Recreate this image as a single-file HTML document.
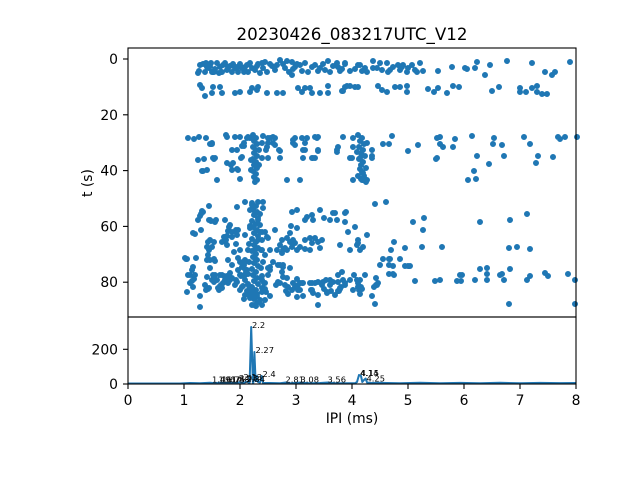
<!DOCTYPE html>
<html><head><meta charset="utf-8"><style>
html,body{margin:0;padding:0;background:#fff;}
svg{display:block;}
text{font-family:"DejaVu Sans","Liberation Sans",sans-serif;fill:#000;}
</style></head><body>
<svg width="640" height="480" viewBox="0 0 640 480" xmlns="http://www.w3.org/2000/svg">
<rect width="640" height="480" fill="#fff"/>
<text x="352" y="40" font-size="16.7" text-anchor="middle">20230426_083217UTC_V12</text>

<!-- scatter points -->
<path fill="none" stroke="#1f77b4" stroke-width="6" stroke-linecap="round" d="
M200 65h0M206 63h0M207 67h0M199 71h0M210 66h0M217 63h0M214 72h0M212 72h0M220 67h0M223 65h0M222 72h0M227 70h0M230 66h0M232 72h0M235 68h0M238 72h0M240 64h0M242 68h0M245 67h0M248 72h0M250 63h0M252 68h0M257 66h0M262 63h0M265 62h0M267 72h0M272 66h0M277 65h0M280 60h0M283 64h0M287 61h0M292 62h0M293 69h0M297 64h0M300 65h0M302 71h0M292 75h0M308 72h0M312 67h0M320 68h0M323 64h0M328 61h0M330 72h0M337 63h0M338 67h0M345 64h0M350 71h0M358 65h0
M198 73h0M203 64h0M205 72h0M209 68h0M211 63h0M215 69h0M219 73h0M225 63h0M228 68h0M233 64h0M237 67h0M244 72h0M247 65h0M255 70h0M258 64h0M260 73h0M263 68h0M270 64h0M275 70h0M285 68h0M289 72h0M295 67h0M305 63h0M315 65h0M318 71h0M325 70h0M333 66h0M342 69h0
M345 63h0M340 71h0M355 69h0M360 65h0M362 71h0M367 72h0M365 68h0M373 61h0M373 68h0M377 68h0M380 63h0M382 70h0M387 63h0M388 72h0M390 70h0M393 67h0M398 65h0M400 70h0M402 67h0M403 65h0M407 72h0M408 68h0M412 65h0M415 70h0M417 72h0M420 63h0M423 71h0M438 71h0M452 67h0M465 68h0M467 69h0M475 68h0M477 62h0M485 75h0M490 65h0M507 61h0M532 63h0M545 72h0M552 75h0M555 72h0M570 62h0
M200 85h0M202 88h0M205 96h0M212 93h0M213 87h0M220 87h0M222 93h0M235 93h0M240 92h0M250 92h0M252 88h0M257 90h0M258 87h0M267 93h0M277 93h0M283 93h0M298 88h0M302 92h0M305 88h0M310 88h0M312 93h0M320 93h0M328 86h0M328 93h0M342 91h0M345 87h0M350 86h0M358 87h0
M343 91h0M347 86h0M355 87h0M378 86h0M382 90h0M387 92h0M395 87h0M400 87h0M407 86h0M407 92h0M428 89h0M434 92h0M438 88h0M447 93h0M453 86h0M459 87h0M492 91h0M499 87h0M520 88h0M520 92h0M526 92h0M532 88h0M537 86h0M537 92h0M542 94h0M547 94h0
M188 138h0M194 139h0M199 137h0M206 138h0M212 144h0M226 135h0M227 137h0M198 160h0M204 159h0M214 159h0M202 171h0M203 171h0M217 180h0M231 165h0M233 163h0M237 169h0M241 158h0M242 146h0M244 146h0M240 179h0
M210 144h0M235 137h0M240 137h0M248 137h0M263 136h0M268 138h0M273 137h0M275 145h0M267 147h0M280 151h0M293 140h0M295 145h0M302 138h0M303 150h0M315 137h0M318 137h0M318 151h0M337 152h0M338 147h0M343 137h0M353 138h0M353 147h0M232 150h0M237 150h0M215 158h0M242 157h0M280 158h0M313 158h0M350 158h0
M212 143h0M244 143h0M262 143h0M268 143h0M273 143h0M293 143h0M305 143h0M266 150h0M279 150h0M318 150h0M337 150h0M372 150h0M213 158h0M262 158h0M268 158h0M303 158h0M315 158h0M352 158h0M360 158h0M372 158h0M227 163h0M233 163h0M207 170h0M232 170h0M238 170h0M287 180h0M300 180h0M353 180h0M362 180h0M367 180h0M247 138h0M250 138h0M256 138h0M270 138h0M275 138h0M295 138h0M307 138h0M317 138h0
M383 144h0M389 144h0M392 136h0M408 151h0M418 145h0M437 138h0M440 137h0M440 144h0M443 147h0M455 139h0M453 147h0M472 136h0M494 138h0M493 144h0M502 145h0M524 137h0M530 144h0M558 137h0M560 139h0M565 137h0M577 137h0M372 156h0M437 158h0M477 156h0M504 156h0M538 156h0M553 157h0
M436 159h0M489 164h0M536 163h0M474 171h0M468 180h0M476 179h0M363 173h0M305 150h0M312 158h0
M253 135h0M256 138h0M254 141h0M257 144h0M253 147h0M256 150h0M254 153h0M257 156h0M253 159h0M256 162h0M254 165h0M257 168h0M253 171h0M256 174h0M254 177h0M257 180h0M255 182h0M251 170h0M251 160h0M259 150h0M259 165h0
M358 135h0M362 138h0M360 141h0M364 144h0M359 147h0M363 150h0M361 153h0M365 156h0M359 159h0M363 162h0M361 165h0M360 169h0M362 172h0M364 176h0M361 179h0M366 182h0M358 176h0M366 168h0M367 143h0M357 152h0
M209 206h0M201 214h0M198 220h0M211 221h0M215 222h0M225 220h0M229 227h0M232 232h0M236 230h0M195 234h0M208 242h0M209 250h0M212 247h0M214 242h0M222 242h0M224 237h0M226 240h0M227 236h0M187 259h0M193 267h0M188 275h0M192 281h0M194 279h0M200 296h0M207 260h0M214 259h0M209 288h0M214 276h0M217 280h0M222 275h0M223 283h0M228 282h0M236 280h0M240 262h0M242 267h0M241 275h0M243 286h0M245 295h0M256 306h0M252 290h0
M237 207h0M245 202h0M258 202h0M263 202h0M263 208h0M252 205h0M200 216h0M202 211h0M210 220h0M230 225h0M228 231h0M238 230h0M245 235h0M255 213h0M258 220h0M250 228h0M260 225h0M262 232h0M265 232h0M262 240h0M258 240h0M268 238h0M275 230h0M282 240h0M287 238h0M292 212h0M297 210h0M305 220h0M312 215h0M320 210h0M335 213h0M345 213h0M345 222h0M348 232h0M355 227h0M358 240h0M363 247h0M367 235h0M290 242h0M295 243h0M300 247h0M305 249h0M305 240h0M285 248h0M248 250h0M255 250h0M262 250h0M270 250h0M283 250h0M297 250h0M340 245h0M350 250h0M357 245h0M193 233h0M210 240h0M207 247h0M196 258h0M238 258h0M255 258h0
M185 258h0M192 270h0M195 275h0M190 283h0M187 292h0M193 287h0M200 307h0M201 230h0M203 212h0M209 220h0M216 220h0M232 237h0M237 235h0M236 244h0M234 252h0M240 250h0M238 258h0M245 260h0M244 268h0M246 272h0M241 276h0M230 273h0M224 276h0M222 288h0M219 290h0M213 275h0M214 282h0M218 288h0M221 285h0M207 277h0M205 285h0M206 290h0M215 261h0M208 255h0M210 260h0M227 245h0M228 260h0M232 265h0M237 282h0M235 285h0M240 290h0M250 297h0M252 305h0M257 294h0M262 288h0M265 283h0M268 275h0M268 268h0M265 255h0M267 237h0M280 245h0M277 250h0M282 253h0M287 250h0M292 247h0M293 240h0M290 233h0M291 226h0M297 228h0M280 265h0M283 267h0M290 268h0M283 277h0M278 282h0M276 285h0M288 287h0M293 283h0M297 279h0M298 285h0M302 283h0M300 290h0M303 296h0M297 297h0M285 285h0M310 283h0M312 290h0M313 293h0M315 283h0M318 295h0M327 293h0M330 285h0M331 291h0M330 280h0M322 285h0M326 280h0M310 250h0M312 243h0M315 238h0M324 218h0M322 240h0M320 248h0M318 242h0M310 238h0M307 217h0M313 220h0M333 213h0M337 220h0M330 220h0M338 275h0M342 272h0M345 285h0M339 291h0M350 280h0M353 290h0M358 283h0M360 294h0M361 287h0M374 287h0M376 278h0M377 285h0M372 296h0M375 304h0M360 250h0M358 243h0M378 283h0
M186 259h0M190 275h0M208 289h0M208 259h0M210 268h0M212 280h0M215 275h0M220 286h0M220 275h0M225 280h0M227 276h0M228 283h0M230 280h0M232 278h0M238 270h0M240 275h0M245 275h0M244 265h0M243 262h0M242 287h0M247 291h0M248 293h0M254 305h0M262 305h0M255 296h0M263 288h0M265 289h0M264 283h0M270 267h0M273 262h0M270 270h0M278 265h0M283 265h0M282 272h0M280 283h0M287 278h0M286 291h0M288 294h0M300 283h0M303 283h0M295 287h0M292 290h0M298 290h0M311 290h0M312 283h0M318 282h0M323 282h0M318 305h0M324 289h0M327 292h0M333 282h0M338 282h0M338 291h0M340 288h0M335 295h0M345 283h0M354 275h0M357 280h0M358 287h0M360 280h0M359 290h0
M341 287h0M343 280h0M340 289h0M362 289h0M365 275h0M376 285h0M380 265h0M383 259h0M390 259h0M389 265h0M393 274h0M389 274h0M393 266h0M394 275h0M400 259h0M405 266h0M408 266h0M410 266h0M415 281h0M435 281h0M440 280h0M457 281h0M460 275h0M462 275h0M461 281h0M475 280h0M480 269h0M487 268h0M487 274h0M487 280h0M500 275h0M502 274h0M504 280h0M510 269h0M509 304h0M527 280h0M530 276h0M545 273h0M548 276h0M568 274h0M575 280h0M575 304h0
M375 204h0M386 202h0M346 212h0M413 222h0M424 218h0M423 230h0M394 242h0M391 250h0M405 248h0M422 247h0M442 247h0M480 222h0M510 220h0M527 214h0M509 248h0M517 247h0M530 249h0M383 259h0M389 259h0
M252 203h0M256 206h0M253 209h0M257 212h0M254 215h0M258 218h0M252 221h0M256 224h0M253 227h0M257 230h0M254 233h0M258 236h0M252 239h0M256 242h0M254 245h0M258 248h0M252 251h0M256 254h0M253 257h0M257 260h0M254 263h0M258 266h0M252 269h0M256 272h0M253 275h0M257 278h0M254 281h0M258 284h0M252 287h0M256 290h0M253 293h0M257 296h0M254 299h0M258 302h0M255 305h0
M250 210h0M260 214h0M250 226h0M260 232h0M249 244h0M261 250h0M249 262h0M261 268h0M248 274h0M262 280h0M249 286h0M262 292h0M250 298h0M260 300h0M245 280h0M248 284h0M262 276h0M266 292h0M244 299h0M270 296h0M265 300h0M247 270h0M263 262h0
"/>

<!-- top axes frame -->
<rect x="128" y="48" width="448" height="269" fill="none" stroke="#000" stroke-width="1.1"/>
<g stroke="#000" stroke-width="1.1">
<line x1="123" y1="59" x2="128" y2="59"/>
<line x1="123" y1="114.8" x2="128" y2="114.8"/>
<line x1="123" y1="170.6" x2="128" y2="170.6"/>
<line x1="123" y1="226.4" x2="128" y2="226.4"/>
<line x1="123" y1="282.2" x2="128" y2="282.2"/>
</g>
<g font-size="13.9" text-anchor="end">
<text x="118" y="64">0</text>
<text x="118" y="119.8">20</text>
<text x="118" y="175.6">40</text>
<text x="118" y="231.4">60</text>
<text x="118" y="287.2">80</text>
</g>
<text transform="translate(92,183) rotate(-90)" font-size="13.9" text-anchor="middle">t (s)</text>

<!-- histogram -->
<path fill="none" stroke="#1f77b4" stroke-width="2" stroke-linejoin="round" d="M128,383.5 L180,383.5 L190,383 L200,383.3 L210,382.8 L215,383.2 L220,382.6 L225,383 L230,382.5 L235,383 L240,382.3 L244,382.8 L247,381.5 L249,383 L249.6,383 L251.2,327 L252.9,383 L253.3,383 L254.4,352 L255.6,381 L256.5,381 L257.2,376 L258,382 L260,382.5 L261.7,376 L263,383 L270,383 L280,383.2 L286,382.5 L290,383.2 L300,382.6 L310,383.2 L320,383 L328,382.5 L335,383.2 L355,383.2 L357,382 L359,375 L361,376 L362.3,382 L364,380 L365.7,378.5 L367,382.5 L370,383 L380,382.8 L400,383.2 L420,382.8 L440,383.3 L460,382.9 L480,383.2 L500,382.8 L520,383.2 L540,382.9 L560,383.1 L576,383"/>
<g font-size="8.3">
<text x="252" y="328">2.2</text>
<text x="255.5" y="353">2.27</text>
<text x="262.5" y="377">2.4</text>
<text x="285.5" y="382.5">2.81</text>
<text x="300.5" y="382.5">3.08</text>
<text x="327.5" y="382.5">3.56</text>
<text x="360" y="376">4.14</text>
<text x="360.6" y="376">4.15</text>
<text x="366.5" y="381.5">4.25</text>
<text x="212" y="382.5">1.49</text>
<text x="218.5" y="382.5">1.61</text>
<text x="222" y="382.5">1.67</text>
<text x="226.5" y="382.5">1.75</text>
<text x="231" y="382.5">1.83</text>
<text x="239" y="381">2.03</text>
<text x="243.5" y="380">2.13</text>
<text x="246.5" y="382">2.34</text>
</g>
<rect x="128" y="317" width="448" height="67" fill="none" stroke="#000" stroke-width="1.1"/>
<g stroke="#000" stroke-width="1.1">
<line x1="123" y1="384" x2="128" y2="384"/>
<line x1="123" y1="349.3" x2="128" y2="349.3"/>
<line x1="128" y1="384" x2="128" y2="389"/>
<line x1="184" y1="384" x2="184" y2="389"/>
<line x1="240" y1="384" x2="240" y2="389"/>
<line x1="296" y1="384" x2="296" y2="389"/>
<line x1="352" y1="384" x2="352" y2="389"/>
<line x1="408" y1="384" x2="408" y2="389"/>
<line x1="464" y1="384" x2="464" y2="389"/>
<line x1="520" y1="384" x2="520" y2="389"/>
<line x1="576" y1="384" x2="576" y2="389"/>
</g>
<g font-size="13.9" text-anchor="end">
<text x="118" y="389">0</text>
<text x="118" y="354.3">200</text>
</g>
<g font-size="13.9" text-anchor="middle">
<text x="128" y="405">0</text>
<text x="184" y="405">1</text>
<text x="240" y="405">2</text>
<text x="296" y="405">3</text>
<text x="352" y="405">4</text>
<text x="408" y="405">5</text>
<text x="464" y="405">6</text>
<text x="520" y="405">7</text>
<text x="576" y="405">8</text>
</g>
<text x="352" y="423" font-size="13.9" text-anchor="middle">IPI (ms)</text>
</svg>
</body></html>
